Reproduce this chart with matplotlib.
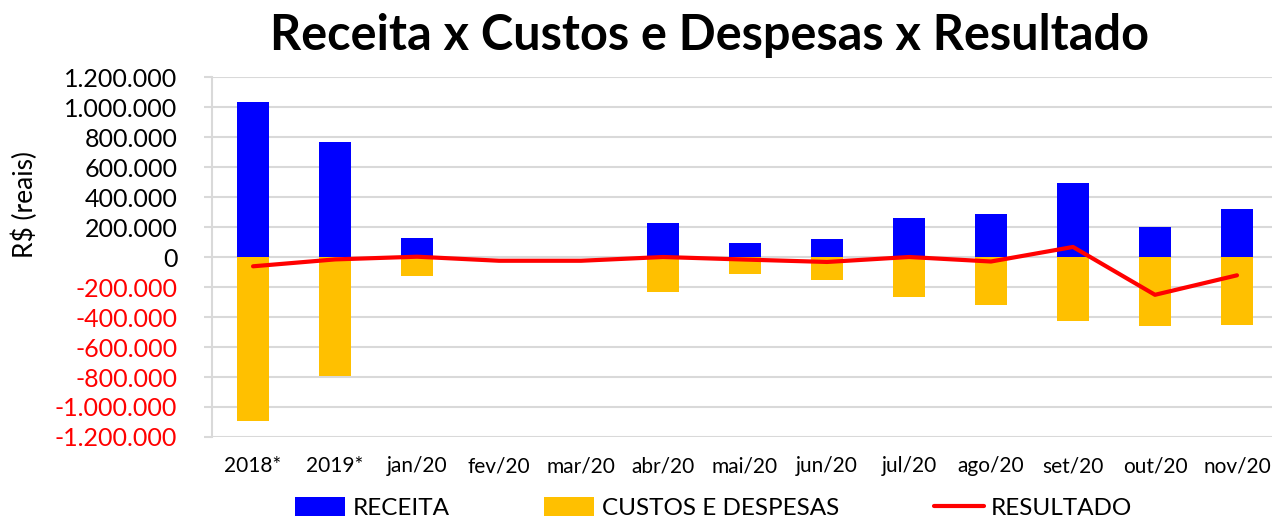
import numpy as np
import matplotlib
matplotlib.use('agg')
import matplotlib.pyplot as plt
from matplotlib.ticker import FuncFormatter, MultipleLocator

# dados (R$)
categorias = ['2018*', '2019*', 'jan/20', 'fev/20', 'mar/20', 'abr/20', 'mai/20',
              'jun/20', 'jul/20', 'ago/20', 'set/20', 'out/20', 'nov/20']
receita = [1035000, 770000, 130000, 0, 0, 230000, 93000,
           118000, 263000, 290000, 495000, 203000, 323000]
custos = [-1095000, -790000, -128000, 0, 0, -230000, -111000,
          -153000, -265000, -317000, -428000, -462000, -453000]
resultado = [-62000, -16000, 2000, -25000, -25000, 0, -17000,
             -33000, 0, -30000, 67000, -252000, -122000]

plt.rcParams['font.family'] = ['Lato', 'DejaVu Sans']

fig = plt.figure(figsize=(12.72, 5.19), dpi=100)
ax = fig.add_axes([0.1667, 0.158, 0.838, 0.6936])

x = np.arange(len(categorias))
largura = 0.39
b1 = ax.bar(x, receita, largura, color='#0000FF', label='RECEITA', zorder=2)
b2 = ax.bar(x, custos, largura, color='#FFC000', label='CUSTOS E DESPESAS', zorder=2)
l1, = ax.plot(x, resultado, color='#FF0000', linewidth=3, label='RESULTADO',
              solid_capstyle='round', zorder=3)

ax.set_xlim(-0.5, len(categorias) - 0.5)
ax.set_ylim(-1200000, 1200000)
ax.yaxis.set_major_locator(MultipleLocator(200000))


def fmt(v, pos):
    if abs(v) < 1:
        return '0'
    return f"{int(round(v)):,}".replace(',', '.')


ax.yaxis.set_major_formatter(FuncFormatter(fmt))
ax.grid(axis='y', color='#d9d9d9', linewidth=1.5, zorder=0)
ax.set_axisbelow(True)

ax.set_xticks(x)
ax.set_xticklabels(categorias, fontsize=15)
ax.tick_params(axis='x', length=0, pad=14)
ax.tick_params(axis='y', labelsize=18, color='#d9d9d9', length=6, width=1.5, pad=19)
for lbl, v in zip(ax.get_yticklabels(), ax.get_yticks()):
    lbl.set_color('#FF0000' if v < 0 else 'black')

for s in ['top', 'right', 'bottom']:
    ax.spines[s].set_visible(False)
ax.spines['left'].set_color('#d9d9d9')
ax.spines['left'].set_linewidth(1.5)

ax.set_ylabel('R$ (reais)', fontsize=19)
ax.yaxis.set_label_coords(-0.163, 0.645)
fig.text(0.558, 0.932, 'Receita x Custos e Despesas x Resultado',
         fontsize=35, fontweight='bold', ha='center', va='center')

fig.legend([b1, b2, l1], ['RECEITA', 'CUSTOS E DESPESAS', 'RESULTADO'],
           loc='center', bbox_to_anchor=(0.561, 0.022), ncol=3, frameon=False,
           fontsize=17.5, handlelength=2.06, handleheight=0.85, columnspacing=3.9,
           handletextpad=0.3)

plt.savefig('out.png', dpi=100)
